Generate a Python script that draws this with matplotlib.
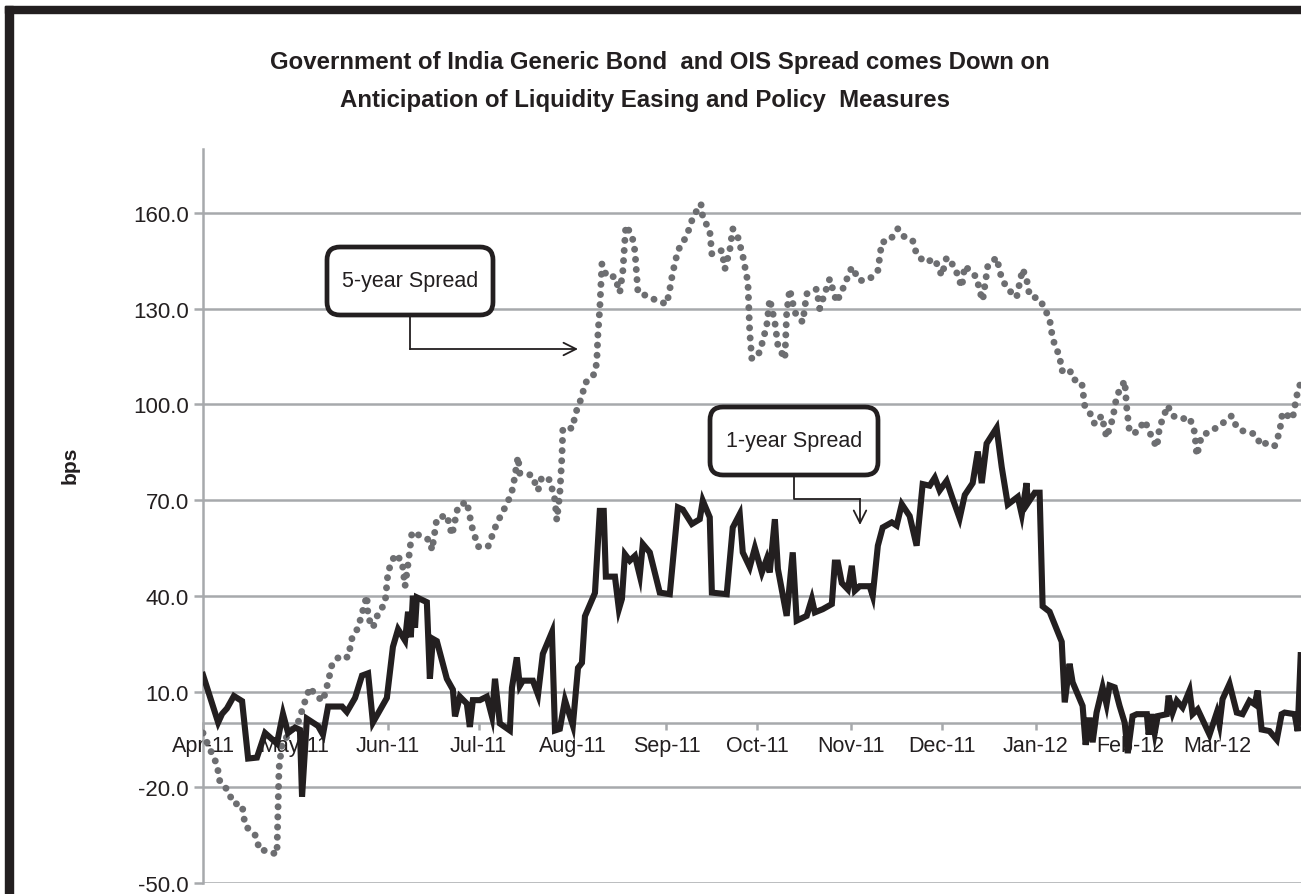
import numpy as np
from matplotlib import pyplot as plt
import matplotlib.dates as mdates
from matplotlib.patches import FancyBboxPatch, Rectangle
from matplotlib.lines import Line2D

# spreads, days counted from 1 Apr 2011, values in bps
one_year_day = [0, 5.0, 6.3, 7.9, 10.2, 12.9, 14.9, 17.8, 20.5, 24.4, 26.4, 28.1, 30.4, 32.0, 32.7,
                34.3, 38.0, 39.6, 41.3, 45.9, 47.5, 50.2, 52.5, 54.5, 56.1, 60.7, 62.7, 64.4, 66.7,
                67.7, 68.6, 69.3, 70.0, 70.6, 73.9, 74.9, 75.9, 77.2, 80.5, 82.5, 83.2, 84.8, 87.1,
                88.1, 89.1, 91.4, 93.7, 95.4, 96.4, 98.0, 101.3, 102.0, 103.6, 104.6, 105.6, 108.9,
                110.6, 112.2, 115.2, 116.2, 117.8, 119.5, 122.1, 123.8, 125.1, 126.1, 129.4, 131.0,
                132.3, 133.0, 136.0, 137.3, 138.3, 139.3, 140.9, 142.6, 144.2, 145.2, 147.5, 150.8,
                154.1, 156.8, 158.4, 161.4, 164.0, 165.0, 167.3, 168.0, 172.9, 174.9, 177.2, 178.2,
                180.5, 182.2, 184.5, 186.1, 187.1, 188.8, 189.8, 192.7, 194.7, 196.0, 199.3, 201.0,
                202.0, 204.6, 207.6, 208.6, 209.6, 210.9, 212.9, 214.2, 215.2, 216.8, 220.1, 221.1,
                222.8, 224.4, 227.4, 229.0, 230.7, 233.3, 235.6, 237.6, 239.9, 241.6, 243.2, 245.5,
                247.5, 249.8, 251.5, 254.1, 255.8, 257.1, 258.7, 262.0, 263.7, 265.7, 269.0, 270.3,
                271.9, 272.3, 274.6, 276.2, 277.2, 279.5, 283.5, 284.5, 286.1, 287.1, 290.4, 291.4,
                292.7, 293.7, 295.0, 297.0, 298.3, 299.3, 301.0, 302.6, 304.3, 305.3, 306.9, 308.3,
                311.6, 312.2, 313.2, 314.2, 315.2, 318.2, 318.8, 320.1, 321.5, 323.4, 325.7, 326.7,
                328.4, 332.3, 334.7, 335.6, 336.6, 338.9, 341.3, 343.2, 345.5, 347.2, 348.2, 349.5,
                352.1, 354.5, 356.1, 357.1, 360.4, 361.4, 362.4]
one_year_bps = [15.2, 0.3, 3.0, 4.7, 8.6, 7.0, -11.0, -10.7, -3.0, -6.3, 3.0, -3.0, -1.3, -2.0, -23.0,
                1.5, -0.8, -3.5, 5.3, 5.3, 3.6, 8.0, 15.0, 15.7, 0.3, 8.0, 24.0, 29.5, 26.0,
                35.0, 27.0, 40.0, 30.0, 39.5, 38.0, 14.0, 26.5, 25.8, 14.0, 10.6, 2.2, 8.4, 6.2,
                -1.1, 7.3, 7.3, 8.4, 2.2, 14.0, 0.0, -2.2, 11.2, 20.7, 11.8, 13.4, 13.4,
                9.0, 21.8, 28.6, -2.2, -1.7, 7.3, -0.6, 17.4, 19.0, 33.6, 40.9, 66.6,
                66.6, 46.0, 46.0, 35.8, 39.0, 53.0, 51.0, 52.5, 46.3, 56.2, 53.6, 41.0,
                40.5, 67.7, 67.0, 62.5, 64.0, 69.8, 64.6, 41.0, 40.5, 61.4, 65.6, 53.6,
                49.0, 55.0, 47.3, 51.5, 47.3, 64.0, 48.4, 33.7, 53.6, 32.2, 33.7, 39.0,
                34.8, 35.8, 37.4, 50.4, 50.4, 44.0, 42.0, 49.4, 41.6, 43.0, 43.0, 40.0,
                55.7, 61.4, 63.0, 62.0, 68.7, 65.0, 55.7, 75.0, 74.5, 77.0, 73.0, 76.0,
                70.4, 64.3, 71.6, 75.3, 85.2, 75.3, 87.7, 92.6, 80.3, 68.6, 71.0, 65.5,
                75.3, 69.0, 72.3, 72.3, 36.7, 35.0, 25.6, 6.6, 18.7, 12.9, 5.5, -6.7,
                1.8, -5.9, 3.4, 11.3, 6.0, 11.9, 11.3, 5.5, 0.2, -9.3, 2.3, 2.9,
                2.9, -3.5, 2.9, -3.0, 2.3, 2.9, 8.7, 3.4, 7.1, 5.0, 10.3, 2.9,
                4.4, -3.5, 3.4, -0.3, 7.6, 12.4, 3.4, 2.9, 7.1, 6.0, 10.3, -1.9,
                -2.4, -5.1, 2.9, 3.4, 2.9, -2.4, 21.4]

five_year_day = [0, 1.7, 4.6, 5.6, 8.3, 9.9, 12.9, 13.9, 17.2, 18.8, 20.5, 24.4, 25.1, 26.1, 29.4,
                 31.4, 33.7, 35.3, 37.0, 39.6, 41.3, 42.6, 45.2, 47.9, 49.2, 51.2, 54.1, 54.5, 56.1,
                 57.8, 60.1, 61.1, 63.4, 65.7, 66.7, 67.7, 69.0, 74.9, 75.6, 77.2, 80.5, 82.2, 84.2,
                 87.1, 88.8, 90.8, 94.1, 97.0, 100.7, 102.3, 104.0, 104.6, 108.6, 110.6, 111.9,
                 114.5, 116.2, 116.8, 117.8, 118.5, 118.8, 122.1, 122.8, 125.1, 126.1, 129.4, 130.0,
                 130.4, 131.0, 131.7, 133.3, 136.0, 137.6, 138.6, 139.6, 141.6, 142.6, 143.6, 146.5,
                 149.8, 153.1, 154.1, 155.1, 156.8, 159.7, 161.4, 163.0, 164.4, 165.0, 167.3, 168.0,
                 171.3, 172.3, 173.9, 174.9, 176.6, 178.2, 179.9, 180.2, 180.5, 181.2, 183.8, 186.1,
                 187.1, 188.8, 189.8, 192.1, 192.7, 193.7, 195.4, 198.0, 199.3, 202.6, 203.6, 206.9,
                 209.2, 211.2, 214.2, 216.8, 220.1, 222.8, 224.1, 226.7, 229.4, 231.0, 234.3, 235.6,
                 238.3, 241.6, 243.9, 245.5, 248.2, 250.5, 251.5, 255.4, 256.4, 257.4, 259.1, 262.0,
                 263.7, 265.7, 268.6, 270.6, 271.9, 272.9, 276.2, 277.9, 279.5, 280.2, 281.2, 282.8,
                 283.5, 286.1, 287.1, 290.1, 291.1, 292.7, 294.4, 296.7, 298.3, 300.3, 301.7, 304.3,
                 305.0, 305.9, 308.3, 310.9, 313.5, 314.9, 315.8, 318.5, 320.1, 323.1, 325.7, 327.4,
                 328.1, 329.7, 333.0, 336.3, 339.6, 341.3, 343.2, 347.2, 349.5, 351.2, 353.8, 355.4,
                 356.4, 359.7, 361.1, 362.4]
five_year_bps = [-3.0, -6.8, -12.9, -18.4, -21.0, -25.0, -25.5, -32.0, -35.0, -39.8, -39.8, -41.0, -14.0,
                 -6.3, -1.9, 0.3, 7.0, 11.3, 9.0, 7.0, 13.0, 18.5, 21.2, 20.7, 26.7, 30.0, 40.0, 33.3,
                 30.0, 34.4, 37.7, 47.6, 53.0, 50.9, 43.0, 50.0, 60.0, 57.4, 54.3, 64.2, 65.3, 59.0,
                 68.0, 69.5, 61.6, 55.4, 55.4, 62.7, 69.5, 73.7, 83.6, 78.4, 77.8, 73.0, 77.3,
                 76.3, 70.0, 63.7, 72.0, 83.6, 92.5, 92.5, 96.7, 102.4, 106.6, 109.7, 113.4,
                 122.3, 130.0, 144.0, 140.0, 140.0, 135.0, 141.7, 156.0, 153.0, 148.0, 135.0, 134.0,
                 132.5, 131.4, 136.0, 141.4, 148.2, 152.8, 157.6, 160.7, 162.8, 158.6, 154.4, 147.1,
                 148.2, 142.4, 148.2, 155.0, 152.3, 146.6, 138.2, 129.9, 122.5, 114.2, 116.3, 124.6,
                 133.0, 125.7, 118.4, 114.2, 128.8, 136.1, 128.8, 125.7, 134.6, 136.1, 130.0, 139.3,
                 132.0, 136.1, 143.0, 138.7, 139.3, 141.9, 150.8, 151.3, 155.0, 152.8, 151.3, 147.0,
                 144.5, 145.5, 140.3, 146.0, 143.0, 136.7, 143.4, 139.8, 135.6, 132.5, 143.4, 146.0,
                 139.3, 136.1, 133.5, 142.4, 139.3, 134.0, 133.0, 129.9, 126.7, 122.5, 118.4, 115.2,
                 110.5, 111.0, 107.9, 106.9, 99.6, 97.5, 93.8, 96.4, 89.6, 95.4, 102.7, 107.4,
                 98.5, 91.2, 91.2, 94.9, 89.1, 86.5, 92.8, 99.6, 96.4, 95.4, 95.9, 91.2,
                 83.9, 90.2, 91.7, 93.8, 96.4, 92.8, 91.7, 90.7, 87.0, 88.0, 87.0, 91.2,
                 97.5, 95.4, 102.7, 106.9]

y_ticks = [-50, -20, 10, 40, 70, 100, 130, 160]

DARK = '#231f20'
GRID = '#a7a9ac'
GREY = '#6d6e71'
W, H = 1301, 895


def visualize():
    plt.rcParams['font.family'] = ['Liberation Sans', 'DejaVu Sans']

    fig = plt.figure(figsize=(W / 100, H / 100), dpi=100)
    ax = fig.add_axes([203 / W, 11 / H, 1 - 203 / W, 734 / H])

    start = mdates.date2num(np.datetime64('2011-04-01'))
    x1 = start + np.array(one_year_day)
    x5 = start + np.array(five_year_day)

    ax.plot(x5, five_year_bps, color=GREY, lw=5.0, linestyle=(0, (0.01, 1.45)),
            dash_capstyle='round', solid_joinstyle='round', zorder=3)
    ax.plot(x1, one_year_bps, color=DARK, lw=4.4, solid_joinstyle='miter', zorder=4)

    ax.set_xlim(start, start + 362.5)
    ax.set_ylim(-50, 180)
    ax.set_yticks(y_ticks)
    ax.set_yticklabels(['%.1f' % v for v in y_ticks])
    ax.xaxis.set_major_locator(mdates.MonthLocator())
    ax.xaxis.set_major_formatter(mdates.DateFormatter('%b-%y'))

    ax.set_axisbelow(True)
    ax.grid(axis='y', color=GRID, lw=1.8)
    for s in ['top', 'right']:
        ax.spines[s].set_visible(False)
    ax.spines['bottom'].set_position(('data', 0))
    ax.spines['bottom'].set_color(GRID)
    ax.spines['bottom'].set_linewidth(1.8)
    ax.spines['left'].set_color(GRID)
    ax.spines['left'].set_linewidth(1.8)
    ax.tick_params(axis='y', length=6.5, width=1.8, color=GRID, pad=3.5,
                   labelsize=16, labelcolor=DARK)
    ax.tick_params(axis='x', length=5, width=1.8, color=GRID, pad=3,
                   labelsize=15.5, labelcolor=DARK)

    # title and axis label
    fig.text(660 / W, 1 - 63 / H, 'Government of India Generic Bond  and OIS Spread comes Down on',
             ha='center', va='center', fontsize=17.3, fontweight='bold', color=DARK)
    fig.text(645 / W, 1 - 101 / H, 'Anticipation of Liquidity Easing and Policy  Measures',
             ha='center', va='center', fontsize=17.3, fontweight='bold', color=DARK)
    fig.text(70 / W, 1 - 465 / H, 'bps', rotation=90, ha='center', va='center',
             fontsize=15, fontweight='bold', color=DARK)

    # callout boxes, placed in image pixels (y measured from the top)
    tr = fig.dpi_scale_trans

    def box(x0, y0, x1_, y1_, label):
        patch = FancyBboxPatch((x0 / 100, (H - y1_) / 100), (x1_ - x0) / 100, (y1_ - y0) / 100,
                               boxstyle='round,pad=0,rounding_size=0.13', transform=tr,
                               facecolor='white', edgecolor=DARK, lw=3.4, zorder=10)
        fig.patches.append(patch)
        fig.text((x0 + x1_) / 2 / W, 1 - (y0 + y1_) / 2 / H, label, ha='center', va='center',
                 fontsize=15.5, color=DARK, zorder=11)

    def connector(points):
        xs = [p[0] / 100 for p in points]
        ys = [(H - p[1]) / 100 for p in points]
        fig.add_artist(Line2D(xs[:-1], ys[:-1], transform=tr, color=DARK, lw=1.3))
        ax.annotate('', xy=(points[-1][0], H - points[-1][1]),
                    xytext=(points[-2][0], H - points[-2][1]),
                    xycoords='figure pixels', textcoords='figure pixels',
                    arrowprops=dict(arrowstyle='->,head_length=0.5,head_width=0.25',
                                    mutation_scale=18, color=DARK, lw=1.3,
                                    shrinkA=0, shrinkB=0), annotation_clip=False)

    box(327, 248, 493, 316, '5-year Spread')
    connector([(410, 316), (410, 350), (578, 350)])
    box(710, 408, 878, 476, '1-year Spread')
    connector([(794, 476), (794, 500), (860, 500), (860, 526)])

    # outer frame of the page (left and top edges only are visible)
    fig.patches.append(Rectangle((5 / W, 0), 8 / W, 1 - 7 / H, transform=fig.transFigure,
                                 color=DARK, zorder=20))
    fig.patches.append(Rectangle((5 / W, 1 - 14 / H), 1, 7 / H, transform=fig.transFigure,
                                 color=DARK, zorder=20))

    fig.savefig('out.png', dpi=100)


if __name__ == "__main__":
    visualize()
